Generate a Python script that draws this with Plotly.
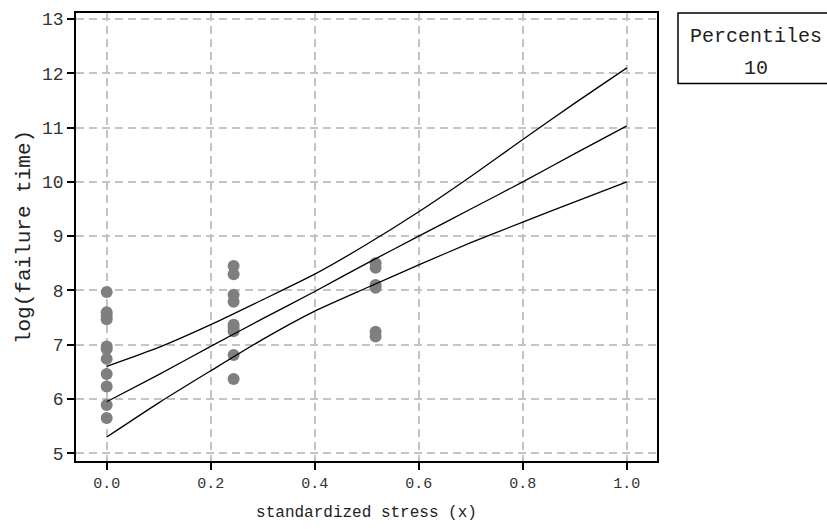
import plotly.graph_objects as go

# observed data (standardized stress, log failure time)
pts_x0 = [0.0] * 11
pts_y0 = [7.97, 7.6, 7.54, 7.47, 6.97, 6.92, 6.74, 6.46, 6.23, 5.89, 5.65]
pts_x1 = [0.244] * 9
pts_y1 = [8.45, 8.30, 7.92, 7.79, 7.37, 7.31, 7.25, 6.81, 6.37]
pts_x2 = [0.517] * 6
pts_y2 = [8.50, 8.42, 8.10, 8.05, 7.24, 7.15]

# percentile curves
curve_x = [0.0, 0.1, 0.2, 0.3, 0.4, 0.5, 0.6, 0.7, 0.8, 0.9, 1.0]
upper = [6.6, 6.95, 7.37, 7.83, 8.3, 8.85, 9.45, 10.1, 10.78, 11.45, 12.1]
middle = [5.95, 6.45, 6.97, 7.48, 7.98, 8.5, 9.0, 9.5, 10.0, 10.52, 11.03]
lower = [5.3, 5.93, 6.52, 7.1, 7.62, 8.05, 8.47, 8.88, 9.26, 9.63, 10.0]

x_ticks = [0.0, 0.2, 0.4, 0.6, 0.8, 1.0]
x_ticklabels = ["0.0", "0.2", "0.4", "0.6", "0.8", "1.0"]
y_ticks = [5, 6, 7, 8, 9, 10, 11, 12, 13]

FONT = "Liberation Mono"

fig = go.Figure()
px_all = pts_x0 + pts_x1 + pts_x2
py_all = pts_y0 + pts_y1 + pts_y2
fig.add_trace(go.Scatter(x=px_all, y=py_all, mode="markers",
                         marker=dict(color="#7f7f7f", size=12),
                         showlegend=False))
for ys in (upper, middle, lower):
    fig.add_trace(go.Scatter(x=curve_x, y=ys, mode="lines",
                             line=dict(color="black", width=1.3, shape="spline", smoothing=0.6),
                             showlegend=False))

axis_common = dict(showline=True, mirror=True, linecolor="black", linewidth=1.5,
                   ticks="outside", ticklen=7, tickcolor="black", tickwidth=1.5,
                   showgrid=True, gridcolor="#c4c4c4", gridwidth=1.5,
                   griddash="8px,5px", zeroline=False)

fig.update_layout(
    width=827, height=529,
    margin=dict(l=76, r=170, t=10, b=68),
    paper_bgcolor="white", plot_bgcolor="white",
    font=dict(family=FONT, color="#222"),
    xaxis=dict(range=[-0.059, 1.058], tickvals=x_ticks, ticktext=x_ticklabels,
               tickfont=dict(size=15, family=FONT, color="#333"),
               title=dict(text="standardized stress (x)", font=dict(size=16, family=FONT, color="#222"),
                          standoff=14),
               **axis_common),
    yaxis=dict(range=[4.859, 13.11], tickvals=y_ticks,
               tickfont=dict(size=18, family=FONT, color="#333"),
               title=dict(text="log(failure time)", font=dict(size=21, family=FONT, color="#222"),
                          standoff=6),
               **axis_common),
)

# percentile legend box
def xp(px):
    return (px - 76) / 581.0

def yp(py):
    return (461 - py) / 451.0

fig.add_shape(type="rect", xref="paper", yref="paper",
              x0=xp(678), x1=xp(845), y0=yp(81), y1=yp(10),
              line=dict(color="black", width=1.5), fillcolor="white")
fig.add_annotation(xref="paper", yref="paper", x=xp(756), y=yp(34),
                   text="Percentiles", showarrow=False, xanchor="center", yanchor="middle",
                   font=dict(size=20, family=FONT, color="#222"))
fig.add_annotation(xref="paper", yref="paper", x=xp(756), y=yp(66),
                   text="10", showarrow=False, xanchor="center", yanchor="middle",
                   font=dict(size=20, family=FONT, color="#222"))

fig.write_html("out.html")
